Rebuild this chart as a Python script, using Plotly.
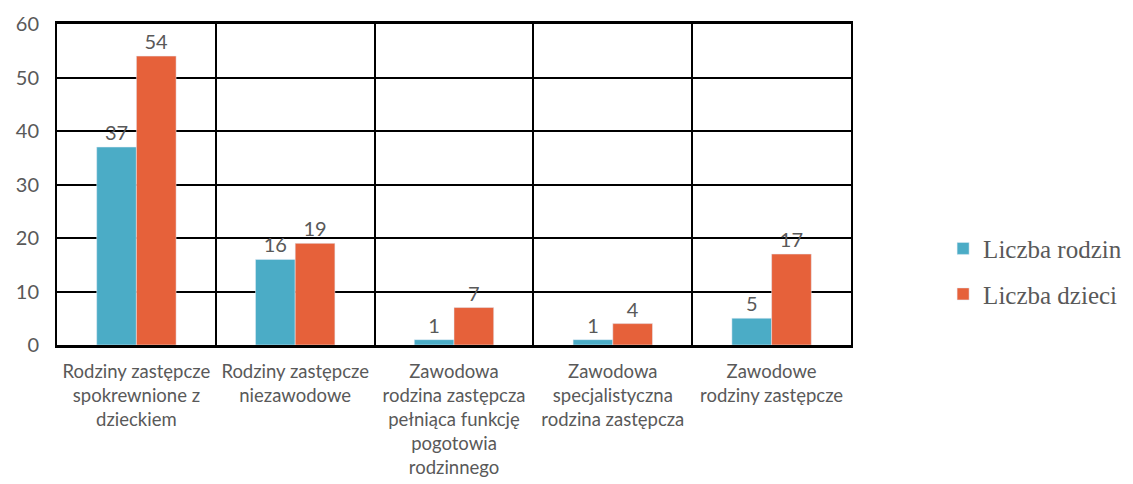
import plotly.graph_objects as go

categories = [
    "Rodziny zastępcze<br>spokrewnione z<br>dzieckiem",
    "Rodziny zastępcze<br>niezawodowe",
    "Zawodowa<br>rodzina zastępcza<br>pełniąca funkcję<br>pogotowia<br>rodzinnego",
    "Zawodowa<br>specjalistyczna<br>rodzina zastępcza",
    "Zawodowe<br>rodziny zastępcze",
]
liczba_rodzin = [37, 16, 1, 1, 5]
liczba_dzieci = [54, 19, 7, 4, 17]

BLUE = "#4BACC6"
ORANGE = "#E6613A"
GREY = "#595959"

fig = go.Figure()
fig.add_trace(go.Bar(
    x=categories, y=liczba_rodzin, name="Liczba rodzin",
    marker=dict(color=BLUE), legendgroup="a",
    text=liczba_rodzin, textposition="outside",
    textfont=dict(family="Lato", size=20, color=GREY), cliponaxis=False,
))
fig.add_trace(go.Bar(
    x=categories, y=liczba_dzieci, name="Liczba dzieci",
    marker=dict(color=ORANGE), legendgroup="b",
    text=liczba_dzieci, textposition="outside",
    textfont=dict(family="Lato", size=20, color=GREY), cliponaxis=False,
))

# page body has an 8px margin, so the figure is a bit smaller than the window
fig.update_layout(
    width=1125, height=476,
    margin=dict(l=49, r=282, t=16, b=139, autoexpand=False),
    barmode="group", bargap=0.5, bargroupgap=0,
    paper_bgcolor="white", plot_bgcolor="white",
    font=dict(family="Lato, sans-serif", color=GREY),
    legend=dict(
        x=1.116, y=0.23, xanchor="left", yanchor="middle",
        traceorder="grouped", tracegroupgap=10,
        font=dict(family="'Liberation Serif', serif", size=25, color=GREY),
        itemwidth=30,
    ),
    xaxis=dict(
        tickson="boundaries", showgrid=True, gridcolor="black", gridwidth=2,
        ticks="", tickangle=0, tickfont=dict(family="Lato", size=18.5, color=GREY),
        showline=True, linecolor="black", linewidth=3, mirror=True,
        ticklabelstandoff=8, automargin=False,
    ),
    yaxis=dict(
        range=[0, 60], dtick=10, showgrid=True, gridcolor="black", gridwidth=2,
        tickfont=dict(family="Lato", size=20, color=GREY), ticks="",
        showline=True, linecolor="black", linewidth=2, mirror=True,
        zeroline=False, ticklabelstandoff=12, automargin=False,
    ),
)

fig.write_html("out.html")
